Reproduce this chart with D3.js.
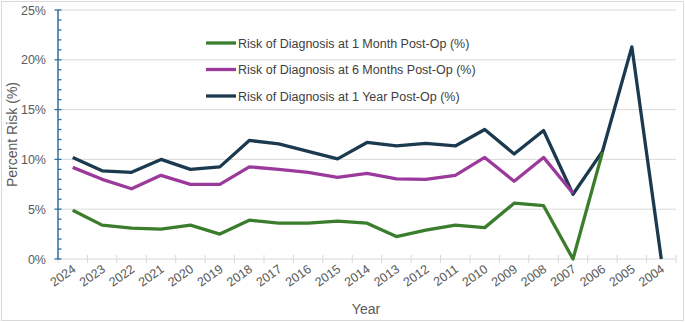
<!DOCTYPE html>
<html lang="en">
<head>
    <meta charset="UTF-8">
    <title>Risk of Diagnosis Post-Op</title>
    <script src="https://d3js.org/d3.v7.min.js"></script>
    <style>
        body { margin: 0; background: #fff; }
        text { font-family: "Liberation Sans", Arial, sans-serif; fill: #595959; }
        .tick-label { font-size: 12.5px; }
        .axis-title { font-size: 14px; }
        .legend-label { font-size: 12.5px; fill: #404040; }
    </style>
</head>
<body>
<script>
    // categories (x axis runs from newest to oldest)
    let years = ["2024", "2023", "2022", "2021", "2020", "2019", "2018", "2017", "2016", "2015", "2014",
        "2013", "2012", "2011", "2010", "2009", "2008", "2007", "2006", "2005", "2004"];

    // percent values, null where there is no point
    let oneMonth = [4.9, 3.4, 3.1, 3.0, 3.4, 2.5, 3.9, 3.6, 3.6, 3.8, 3.6,
        2.25, 2.9, 3.4, 3.15, 5.6, 5.35, 0, 10.7, null, null];
    let sixMonths = [9.2, 8.0, 7.05, 8.4, 7.5, 7.5, 9.25, 9.0, 8.7, 8.2, 8.6,
        8.05, 8.0, 8.4, 10.2, 7.8, 10.2, 6.6, null, null, null];
    let oneYear = [10.2, 8.85, 8.7, 10.0, 9.0, 9.25, 11.9, 11.55, 10.8, 10.05, 11.7,
        11.35, 11.6, 11.35, 13.0, 10.55, 12.9, 6.5, 10.8, 21.3, 0];

    let seriesNames = ["Risk of Diagnosis at 1 Month Post-Op (%)",
        "Risk of Diagnosis at 6 Months Post-Op (%)",
        "Risk of Diagnosis at 1 Year Post-Op (%)"];
    let seriesColors = ["#3a7d2c", "#9c3a9c", "#1b3a4f"];

    let yTicks = [0, 5, 10, 15, 20, 25];

    let canvasWidth = 685;
    let canvasHeight = 322;
    let plotLeft = 58, plotRight = 676, plotTop = 10, plotBottom = 259;

    let svg = d3.select("body").append("svg")
        .attr("width", canvasWidth)
        .attr("height", canvasHeight);

    // chart border
    svg.append("rect")
        .attr("x", 1.5).attr("y", 1.5)
        .attr("width", canvasWidth - 3).attr("height", canvasHeight - 3)
        .attr("fill", "#fff")
        .attr("stroke", "#d9d9d9");

    let x = d3.scaleBand()
        .domain(years)
        .range([plotLeft, plotRight]);

    let y = d3.scaleLinear()
        .domain([0, 25])
        .range([plotBottom, plotTop]);

    // gridlines
    svg.append("g")
        .selectAll("line")
        .data(yTicks)
        .join("line")
        .attr("x1", plotLeft).attr("x2", plotRight)
        .attr("y1", d => y(d)).attr("y2", d => y(d))
        .attr("stroke", "#d9d9d9")
        .attr("stroke-width", 1);

    // x axis ticks (between categories)
    let xTickPos = years.map(d => x(d)).concat([plotRight]);
    svg.append("g")
        .selectAll("line")
        .data(xTickPos)
        .join("line")
        .attr("x1", d => d).attr("x2", d => d)
        .attr("y1", plotBottom - 4).attr("y2", plotBottom + 4)
        .attr("stroke", "#d9d9d9");

    // x labels
    svg.append("g")
        .selectAll("text")
        .data(years)
        .join("text")
        .attr("class", "tick-label")
        .attr("text-anchor", "end")
        .attr("transform", d => "translate(" + (x(d) + x.bandwidth() / 2 + 4) + "," + (plotBottom + 12) + ") rotate(-35)")
        .text(d => d);

    // y axis with minor ticks
    let minor = d3.range(0, 25.01, 1);
    svg.append("g")
        .selectAll("line")
        .data(minor)
        .join("line")
        .attr("x1", d => d % 5 === 0 ? plotLeft - 3.5 : plotLeft)
        .attr("x2", plotLeft + 3.5)
        .attr("y1", d => y(d)).attr("y2", d => y(d))
        .attr("stroke", "#2f6f9f")
        .attr("stroke-width", 1.3);

    svg.append("line")
        .attr("x1", plotLeft).attr("x2", plotLeft)
        .attr("y1", y(25)).attr("y2", y(0))
        .attr("stroke", "#2f6f9f")
        .attr("stroke-width", 1.5);

    svg.append("g")
        .selectAll("text")
        .data(yTicks)
        .join("text")
        .attr("class", "tick-label")
        .attr("text-anchor", "end")
        .attr("x", plotLeft - 12)
        .attr("y", d => y(d) + 4.5)
        .text(d => d + "%");

    // axis titles
    svg.append("text")
        .attr("class", "axis-title")
        .attr("text-anchor", "middle")
        .attr("transform", "translate(17," + ((plotTop + plotBottom) / 2) + ") rotate(-90)")
        .text("Percent Risk (%)");

    svg.append("text")
        .attr("class", "axis-title")
        .attr("text-anchor", "middle")
        .attr("x", 366)
        .attr("y", 314)
        .text("Year");

    // lines
    let allSeries = [oneMonth, sixMonths, oneYear];
    let line = d3.line()
        .defined(d => d.v !== null)
        .x(d => x(d.year) + x.bandwidth() / 2)
        .y(d => y(d.v));

    // draw 1 year first so others sit on top like the reference
    [2, 1, 0].forEach(i => {
        let pts = years.map((yr, j) => ({year: yr, v: allSeries[i][j]}));
        svg.append("path")
            .datum(pts)
            .attr("d", line)
            .attr("fill", "none")
            .attr("stroke", seriesColors[i])
            .attr("stroke-width", 3.3)
            .attr("stroke-linejoin", "round");
    });

    // legend
    let legend = svg.append("g");
    seriesNames.forEach((name, i) => {
        let ly = 43 + i * 26.5;
        legend.append("line")
            .attr("x1", 206).attr("x2", 236)
            .attr("y1", ly).attr("y2", ly)
            .attr("stroke", seriesColors[i])
            .attr("stroke-width", 3.3);
        legend.append("text")
            .attr("class", "legend-label")
            .attr("x", 238)
            .attr("y", ly + 4.5)
            .text(name);
    });
</script>
</body>
</html>
